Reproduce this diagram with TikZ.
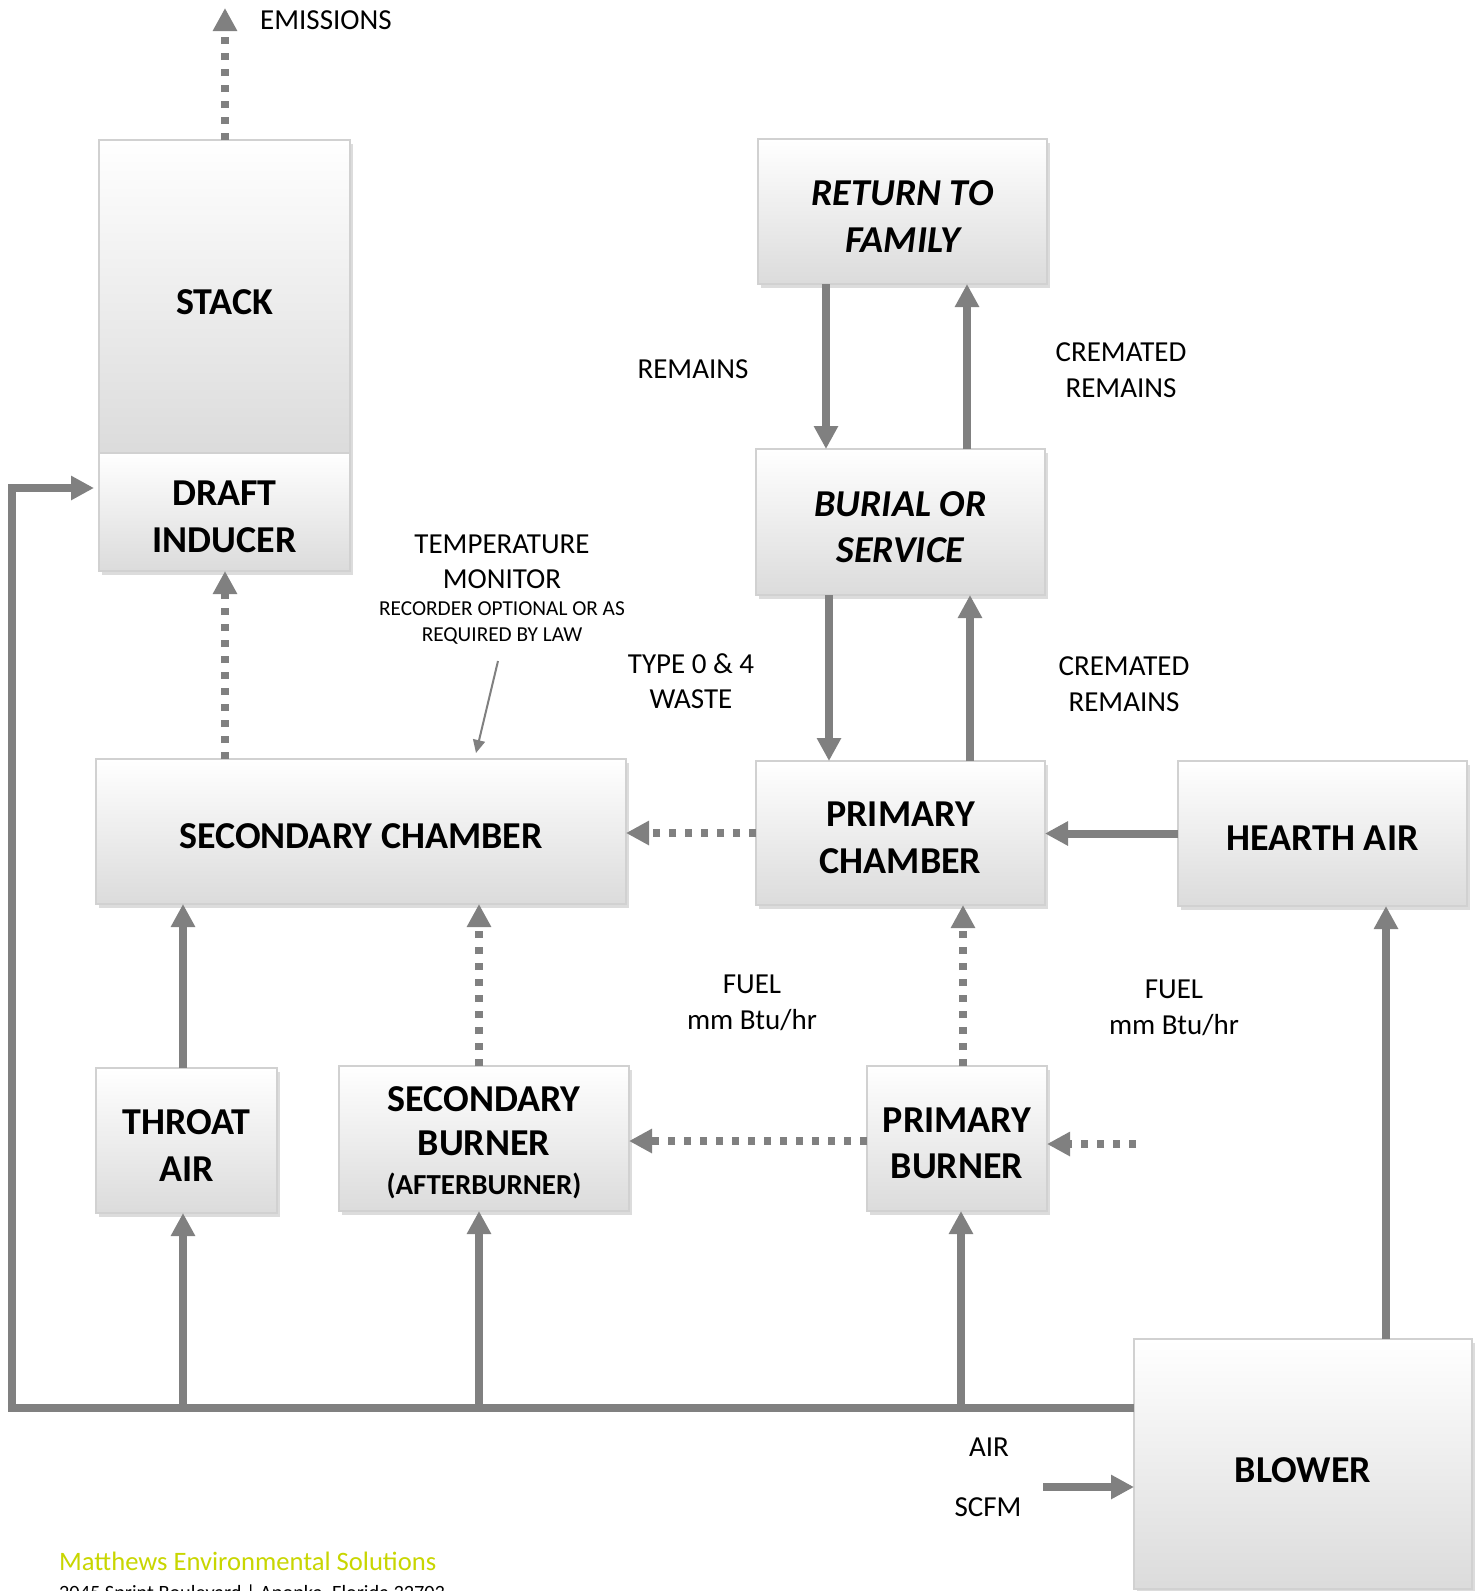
\documentclass[tikz,border=0pt]{standalone}
\usepackage{fontspec}
\setmainfont{Carlito}
\usetikzlibrary{arrows.meta,shadows}
\definecolor{arrgray}{RGB}{128,128,128}
\definecolor{mesgreen}{RGB}{200,214,0}
\begin{document}
\begin{tikzpicture}[x=1pt,y=-1pt,
  box/.style={draw=black!18, line width=1.5pt, top color=white, bottom color=black!14,
    drop shadow={shadow xshift=3pt, shadow yshift=-4pt, opacity=0.3, fill=black!45},
    inner sep=0pt, outer sep=0pt},
  btxt/.style={align=center, inner sep=0pt, font=\fontsize{38}{46.5}\selectfont\bfseries},
  arr/.style={draw=arrgray, line width=8pt, -{Triangle[length=23pt,width=23pt]}},
  dotarr/.style={arr, dash pattern=on 7pt off 9pt},
  lbl/.style={align=center, inner sep=0pt, font=\fontsize{29}{35.5}\selectfont},
  thinarr/.style={draw=arrgray, line width=2pt, -{Triangle[length=13pt,width=12pt]}}
]
\useasboundingbox[fill=white] (0,0) rectangle (1477,1591);

% boxes
\node[box, minimum width=251pt, minimum height=313pt] (stack) at (224.5,296.5) {};
\node[box, minimum width=251pt, minimum height=118pt] (draft) at (224.5,512) {};
\node[box, minimum width=289pt, minimum height=145pt] (return) at (902.5,211.5) {};
\node[box, minimum width=289pt, minimum height=146pt] (burial) at (900.5,522) {};
\node[box, minimum width=530pt, minimum height=145pt] (secch) at (361,831.5) {};
\node[box, minimum width=289pt, minimum height=144pt] (primch) at (900.5,833) {};
\node[box, minimum width=289pt, minimum height=145pt] (hearth) at (1322.5,833.5) {};
\node[box, minimum width=181pt, minimum height=145pt] (throat) at (186.5,1140.5) {};
\node[box, minimum width=290pt, minimum height=145pt] (secburn) at (484,1138.5) {};
\node[box, minimum width=180pt, minimum height=145pt] (primburn) at (957,1138.5) {};
\node[box, minimum width=338pt, minimum height=250pt] (blower) at (1303,1464) {};

% box texts
\node[btxt] (stackT) at ([yshift=-6pt]stack) {STACK};
\node[btxt] (draftT) at ([yshift=-5pt]draft) {DRAFT\\INDUCER};
\node[btxt] (returnT) at ([yshift=-5pt]return) {\itshape RETURN TO\\\itshape FAMILY};
\node[btxt] (burialT) at ([yshift=-5pt]burial) {\itshape BURIAL OR\\\itshape SERVICE};
\node[btxt] (secchT) at ([yshift=-5pt]secch) {SECONDARY CHAMBER};
\node[btxt] (primchT) at ([yshift=-5pt]primch) {PRIMARY\\CHAMBER};
\node[btxt] (hearthT) at ([yshift=-5pt]hearth) {HEARTH AIR};
\node[btxt] (throatT) at ([yshift=-5pt]throat) {THROAT\\AIR};
\node[btxt] (secburnT) at ([yshift=-4pt]secburn) {SECONDARY\\[-2pt]BURNER\\[-8pt]{\fontsize{29}{34}\selectfont(AFTERBURNER)}};
\node[btxt] (primburnT) at ([yshift=-5pt]primburn) {PRIMARY\\BURNER};
\node[btxt] (blowerT) at ([yshift=-6pt]blower) {BLOWER};

% coordinates
\coordinate (lb) at (12,1408);
\coordinate (lt) at (12,488);
\coordinate (lend) at (94,488);
\coordinate (jt) at (183,1408);
\coordinate (js) at (479,1408);
\coordinate (jp) at (961,1408);
\coordinate (jpd) at (963,1408);
\coordinate (em) at (225,8);
\coordinate (sd) at (225,0);
\coordinate (bh) at (1386,0);
\coordinate (pbx) at (970,0);
\coordinate (bpx) at (829,0);
\coordinate (rbx) at (826,0);
\coordinate (brx) at (967,0);
\coordinate (sby) at (0,1141);
\coordinate (fuelR) at (1136,1144);
\coordinate (airin) at (1043,1487);
\coordinate (tmA) at (498,661);
\coordinate (tmB) at (476,753);

% connectors
\draw[arr, line join=miter] (blower.west |- lb) -- (lb) -- (lt) -- (lend);
\draw[arr] (jt) -- (throat.south -| jt);
\draw[arr] (throat.north -| jt) -- (secch.south -| jt);
\draw[arr] (js) -- (secburn.south -| js);
\draw[dotarr] (secburn.north -| js) -- (secch.south -| js);
\draw[arr] (jp) -- (primburn.south -| jp);
\draw[dotarr] (primburn.north -| jpd) -- (primch.south -| jpd);
\draw[dotarr] (primburn.west |- sby) -- (secburn.east |- sby);
\draw[dotarr] (fuelR) -- (primburn.east |- fuelR);
\draw[arr] (blower.north -| bh) -- (hearth.south -| bh);
\draw[arr] (hearth.west) -- (primch.east |- hearth.west);
\draw[dotarr] (primch.west) -- (secch.east |- primch.west);
\draw[arr] (primch.north -| pbx) -- (burial.south -| pbx);
\draw[arr] (burial.south -| bpx) -- (primch.north -| bpx);
\draw[arr] (return.south -| rbx) -- (burial.north -| rbx);
\draw[arr] (burial.north -| brx) -- (return.south -| brx);
\draw[dotarr] (stack.north -| em) -- (em);
\draw[dotarr] (secch.north -| sd) -- (draft.south -| sd);
\draw[arr] (airin) -- (blower.west |- airin);
\draw[thinarr] (tmA) -- (tmB);

% labels
\node[lbl, anchor=west] (emis) at (260,20) {EMISSIONS};
\node[lbl] (remains) at (693,369) {REMAINS};
\node[lbl] (crem1) at (1121,370) {CREMATED\\REMAINS};
\node[lbl] (temp) at (502,562) {TEMPERATURE\\MONITOR};
\node[lbl, font=\fontsize{21.3}{26}\selectfont] (rec) at (502,623) {RECORDER OPTIONAL OR AS\\REQUIRED BY LAW};
\node[lbl] (type) at (691,681) {TYPE 0 \& 4\\WASTE};
\node[lbl] (crem2) at (1124,684) {CREMATED\\REMAINS};
\node[lbl] (fuel1) at (752,1003) {FUEL\\mm Btu/hr};
\node[lbl] (fuel2) at (1174,1008) {FUEL\\mm Btu/hr};
\node[lbl] (air) at (989,1447) {AIR};
\node[lbl] (scfm) at (988,1507) {SCFM};
\node[anchor=base west, inner sep=0pt, text=mesgreen, font=\fontsize{26.6}{30}\selectfont] (mes) at (59,1570) {Matthews Environmental Solutions};
\node[anchor=base west, inner sep=0pt, font=\fontsize{20.3}{24}\selectfont] (addr) at (59,1599) {2045 Sprint Boulevard | Apopka, Florida 32703};
\end{tikzpicture}
\end{document}
